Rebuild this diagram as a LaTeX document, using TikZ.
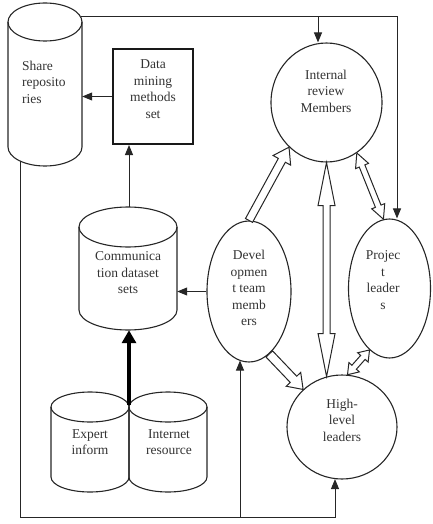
\documentclass[tikz,border=0pt]{standalone}
\usepackage{fontspec}
\setmainfont{Liberation Serif}
\usetikzlibrary{shapes.geometric,calc,arrows.meta}

\tikzset{
  shapeline/.style={draw=black!85, line width=1.1pt},
  txt/.style={font=\fontsize{13.5}{16.5}\selectfont, text=black!80, align=center, inner sep=0pt},
  conn/.style={draw=black!85, line width=1pt, -{Triangle[length=10pt,width=8pt]}},
  bigconn/.style={draw=black, line width=4pt, -{Triangle[length=13pt,width=14pt]}},
  blockline/.style={draw=black!85, line width=1pt, fill=white, line join=miter},
  body/.style={inner sep=0pt, minimum width=#1},
}

% cylinder outline: cx, top, bottom, rx, ry
\newcommand{\cylout}[5]{%
  \draw[shapeline] (#1,#2+#5) ellipse[x radius=#4, y radius=#5];
  \draw[shapeline] (#1-#4,#2+#5) -- (#1-#4,#3-#5)
     arc[start angle=180, end angle=0, x radius=#4, y radius=#5] -- (#1+#4,#2+#5);
}

% single-headed block arrow: start, end, half shaft, half head, head length
\newcommand{\blkone}[5]{%
  \path (#1) coordinate (bA) (#2) coordinate (bB);
  \path ($(bB)!#5!(bA)$) coordinate (bH);
  \filldraw[blockline] ($(bA)!#3!90:(bB)$) -- ($(bH)!#3!90:(bB)$) -- ($(bH)!#4!90:(bB)$)
     -- (bB) -- ($(bH)!#4!-90:(bB)$) -- ($(bH)!#3!-90:(bB)$) -- ($(bA)!#3!-90:(bB)$) -- cycle;
}
% double-headed block arrow
\newcommand{\blktwo}[5]{%
  \path (#1) coordinate (bA) (#2) coordinate (bB);
  \path ($(bB)!#5!(bA)$) coordinate (bH) ($(bA)!#5!(bB)$) coordinate (bK);
  \filldraw[blockline] (bA) -- ($(bK)!#4!90:(bB)$) -- ($(bK)!#3!90:(bB)$) -- ($(bH)!#3!90:(bB)$)
     -- ($(bH)!#4!90:(bB)$) -- (bB) -- ($(bH)!#4!-90:(bB)$) -- ($(bH)!#3!-90:(bB)$)
     -- ($(bK)!#3!-90:(bB)$) -- ($(bK)!#4!-90:(bB)$) -- cycle;
}

\begin{document}
\begin{tikzpicture}[x=1pt, y=-1pt]
\useasboundingbox (0,0) rectangle (433,524);

% cylinders
\cylout{45}{3}{166}{37}{19}
\node[body=74, minimum height=140] (sr) at (45,85) {};
\node[txt, align=left, anchor=west] (srt) at (22,82) {Share\\reposito\\ries};

\cylout{128}{207}{330}{49}{20}
\node[body=98, minimum height=124] (cm) at (128,268) {};
\node[txt] (cmt) at (128,273) {Communica\\tion dataset\\sets};

\cylout{90}{392}{492}{39}{15}
\node[body=78, minimum height=100] (ex) at (90,442) {};
\node[txt] (ext) at (90,442) {Expert\\inform};

\cylout{168}{392}{492}{39}{15}
\node[body=78, minimum height=100] (ir) at (168,442) {};
\node[txt] (irt) at (169,442) {Internet\\resource};

% data mining box
\node[draw=black!90, line width=2pt, inner sep=0pt, minimum width=80, minimum height=95] (dm) at (153,96.5) {};
\node[txt] (dmt) at (153,89) {Data\\mining\\methods\\set};

% ellipses
\node[ellipse, shapeline, minimum width=111, minimum height=119] (irm) at (326.5,102.5) {};
\node[txt] (irmt) at (326,91) {Internal\\review\\Members};

\node[ellipse, shapeline, minimum width=84, minimum height=141] (dev) at (249,291.5) {};
\node[txt] (devt) at (249,288) {Devel\\opmen\\t team\\memb\\ers};

\node[ellipse, shapeline, minimum width=82, minimum height=139] (proj) at (389.5,288.5) {};
\node[txt] (projt) at (383,280) {Projec\\t\\leader\\s};

\node[ellipse, shapeline, minimum width=110, minimum height=104] (high) at (342,427) {};
\node[txt] (hight) at (342,420) {High-\\level\\leaders};

% connector coordinates
\coordinate (t0) at (81,17);
\coordinate (t1) at (397,17);
\coordinate (t2) at (318,17);
\coordinate (s1) at (20,161);
\coordinate (c1) at (20,517);
\coordinate (c2) at (335,517);
\coordinate (c3) at (240,517);
\coordinate (ctop) at (129,207);
\coordinate (jt) at (129,405);

% plain connectors
\draw[conn] (t0) -- (t1) -- (t1 |- proj.north);
\draw[conn] (t2) -- (t2 |- irm.north);
\draw[conn] (dm.west) -- (dm.west -| sr.east);
\draw[conn] (ctop) -- (ctop |- dm.south);
\draw[conn] (dev.west) -- (dev.west -| cm.east);
\draw[conn] (s1) -- (c1) -- (c2) -- ($(c2 |- high.south)+(0,-0.5)$);
\draw[conn] (c3) -- ($(c3 |- dev.south)+(0,-2)$);
\draw[bigconn] (jt) -- (jt |- cm.south);

% block arrows
\blkone{dev.north}{irm.230}{4pt}{10pt}{15pt}
\blktwo{irm.south}{high.107}{3.5pt}{8.5pt}{43pt}
\blktwo{irm.-59}{proj.95}{3pt}{7pt}{14pt}
\blkone{dev.-72}{high.136}{4.5pt}{10pt}{14pt}
\blktwo{proj.-108}{high.84}{3pt}{7pt}{10pt}
\end{tikzpicture}
\end{document}
